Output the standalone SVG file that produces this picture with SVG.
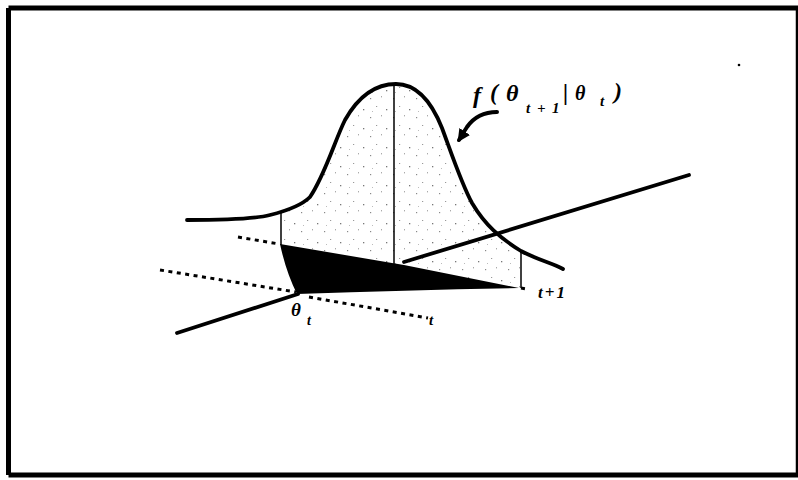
<svg xmlns="http://www.w3.org/2000/svg" width="798" height="480" viewBox="0 0 798 480">
  <defs>
    <style>
      .thick { fill: none; stroke: #000; stroke-width: 3.8; stroke-linecap: round; stroke-linejoin: round; }
      .thin { fill: none; stroke: #000; stroke-width: 1.5; }
      .dotted { fill: none; stroke: #000; stroke-width: 3; stroke-dasharray: 4 4.5; }
      .lbl { font-family: "Liberation Serif", "DejaVu Serif", serif; font-weight: bold; font-style: italic; fill: #000; }
    </style>
    <pattern id="stip" width="23" height="19" patternUnits="userSpaceOnUse">
      <rect x="2" y="3" width="1.2" height="1.2" fill="#888"/>
      <rect x="13" y="1" width="1" height="1.4" fill="#aaa"/>
      <rect x="8" y="11" width="1.2" height="1" fill="#999"/>
      <rect x="18" y="14" width="1.3" height="1.3" fill="#777"/>
      <rect x="4" y="16" width="1" height="1" fill="#bbb"/>
    </pattern>
    <marker id="ah" viewBox="0 0 10 10" refX="8" refY="5" markerWidth="3.2" markerHeight="3.2" orient="auto" markerUnits="strokeWidth">
      <path d="M0,0 L10,5 L0,10 Z" fill="#000"/>
    </marker>
  </defs>

  <rect width="798" height="480" fill="#fff"/>

  <g id="frame">
    <path d="M8.5,8 H800 M8.5,8 V475 M8.5,475 H800" fill="none" stroke="#000" stroke-width="5"/>
    <path d="M797,8 V475" fill="none" stroke="#000" stroke-width="2.5"/>
  </g>

  <g id="shading">
    <path d="M281,212 C295,209 303,204 310,197 C325,175 335,140 345,120 C358,97 375,84 396,84 C418,84 432,103 442,128 C452,155 462,185 472,203 C485,225 500,238 521,251 L521,288 L404,266 L392,264 L281,245 Z" fill="url(#stip)"/>
    <path id="black-region" d="M280,244 L392,263 L404,265 L519,288 Q410,290 297,294 Q286,272 280,244 Z" fill="#000"/>
  </g>

  <g id="axes">
    <path class="thick" d="M177,333 L298,294"/>
    <path class="thick" d="M404,262 L689,175"/>
    <path class="dotted" d="M238,237 L279,244"/>
    <path class="dotted" d="M160,270 L296,292"/>
    <path class="dotted" d="M309,297 L428,318"/>
    <path class="dotted" d="M521,288 L527,289"/>
  </g>

  <g id="density">
    <path class="thick" d="M187,220 C230,220 255,219 270,215 C290,210 303,204 310,197 C325,175 335,140 345,120 C358,97 375,84 396,84 C418,84 432,103 442,128 C452,155 462,185 472,203 C485,225 500,238 521,251 C538,260 552,263 563,269"/>
    <path class="thin" d="M394,85 V264" stroke-width="2"/>
    <path class="thin" d="M281,212 V245"/>
    <path class="thin" d="M521,250 V288"/>
  </g>

  <g id="connectors">
    <path d="M497,112 C484,112 474,117 467,127 C463,133 461,137 459,140" fill="none" stroke="#000" stroke-width="4" stroke-linecap="round" marker-end="url(#ah)"/>
  </g>

  <g id="labels">
    <text class="lbl" font-size="24"><tspan x="473" y="103">f</tspan><tspan x="490" y="100">(</tspan><tspan x="506" y="101">θ</tspan><tspan x="526" y="113" font-size="15">t</tspan><tspan x="537" y="113" font-size="15">+</tspan><tspan x="552" y="113" font-size="15">1</tspan><tspan x="563" y="100">|</tspan><tspan x="575" y="100" font-size="20">θ</tspan><tspan x="600" y="106" font-size="15">t</tspan><tspan x="614" y="99">)</tspan></text>
    <text class="lbl" font-size="19" x="291" y="316">θ</text>
    <text class="lbl" font-size="14" x="307" y="325">t</text>
    <text class="lbl" font-size="15" x="429" y="325">t</text>
    <text class="lbl" font-size="17" x="538" y="298" letter-spacing="2">t+1</text>
  </g>

  <circle cx="739" cy="65" r="1.3" fill="#000"/>
</svg>
